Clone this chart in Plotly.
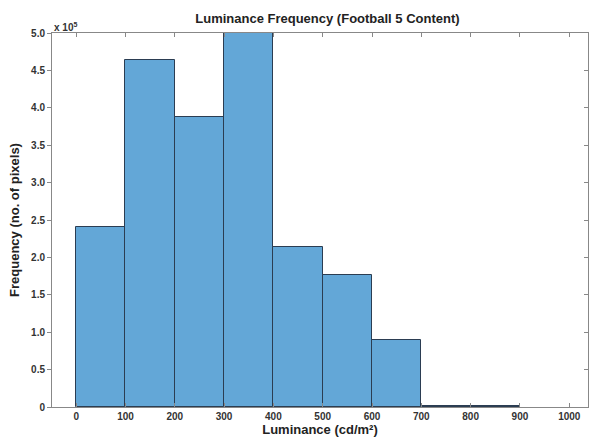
import plotly.graph_objects as go

bin_left = [0, 100, 200, 300, 400, 500, 600, 700, 800]
counts_e5 = [2.40, 4.645, 3.88, 5.0, 2.145, 1.76, 0.89, 0.02, 0.02]
x_ticks = [0, 100, 200, 300, 400, 500, 600, 700, 800, 900, 1000]
y_ticks = [0, 0.5, 1.0, 1.5, 2.0, 2.5, 3.0, 3.5, 4.0, 4.5, 5.0]
y_tick_text = ["0", "0.5", "1.0", "1.5", "2.0", "2.5", "3.0", "3.5", "4.0", "4.5", "5.0"]

centers = [b + 50 for b in bin_left]

fig = go.Figure()
fig.add_trace(go.Bar(
    x=centers, y=counts_e5, width=[100] * len(centers),
    marker=dict(color="#63a7d7", line=dict(color="#2b3d52", width=1)),
    showlegend=False,
))
fig.add_trace(go.Scatter(x=[None], y=[None], yaxis="y2", showlegend=False))

fnt = "Liberation Sans"
fig.update_layout(
    width=590, height=437,
    margin=dict(l=52, r=2, t=33, b=30),
    paper_bgcolor="white", plot_bgcolor="white",
    bargap=0,
    title=dict(text="<b>Luminance Frequency (Football 5 Content)</b>",
               x=0.555, xanchor="center", y=0.958, yanchor="middle",
               font=dict(family=fnt, size=13, color="#222222")),
    xaxis=dict(range=[-49, 1038], tickvals=x_ticks,
               ticktext=["<b>%d</b>" % v for v in x_ticks],
               ticks="inside", ticklen=4, automargin=False,
               tickcolor="#888888", mirror="ticks", showline=True, linecolor="#888888",
               linewidth=1, showgrid=False, zeroline=False,
               tickfont=dict(family=fnt, size=10, color="#333333"),
               title=dict(text="<b>Luminance (cd/m²)</b>", standoff=0,
                          font=dict(family=fnt, size=13, color="#222222"))),
    yaxis=dict(range=[0, 5.0], tickvals=y_ticks, ticktext=["<b>%s</b>" % t for t in y_tick_text],
               ticks="outside", ticklen=4, tickcolor="#888888", automargin=False,
               showline=True, linecolor="#888888", linewidth=1, showgrid=False, zeroline=False,
               tickfont=dict(family=fnt, size=10, color="#333333"),
               title=dict(text="<b>Frequency (no. of pixels)</b>", standoff=8,
                          font=dict(family=fnt, size=13, color="#222222"))),
    yaxis2=dict(range=[0, 5.0], tickvals=y_ticks, overlaying="y", side="right",
                ticks="inside", ticklen=4, tickcolor="#888888", showticklabels=False,
                automargin=False,
                showline=True, linecolor="#888888", showgrid=False, zeroline=False),
    annotations=[dict(text="<b>x 10<sup>5</sup></b>", xref="paper", yref="paper",
                      x=0.0, y=1.0, xanchor="left", yanchor="bottom", showarrow=False,
                      yshift=-2,
                      font=dict(family=fnt, size=10, color="#333333"))],
)
fig.write_html("out.html", config={"displayModeBar": False},
               post_script="document.body.style.margin='0';document.body.style.overflow='hidden';")
